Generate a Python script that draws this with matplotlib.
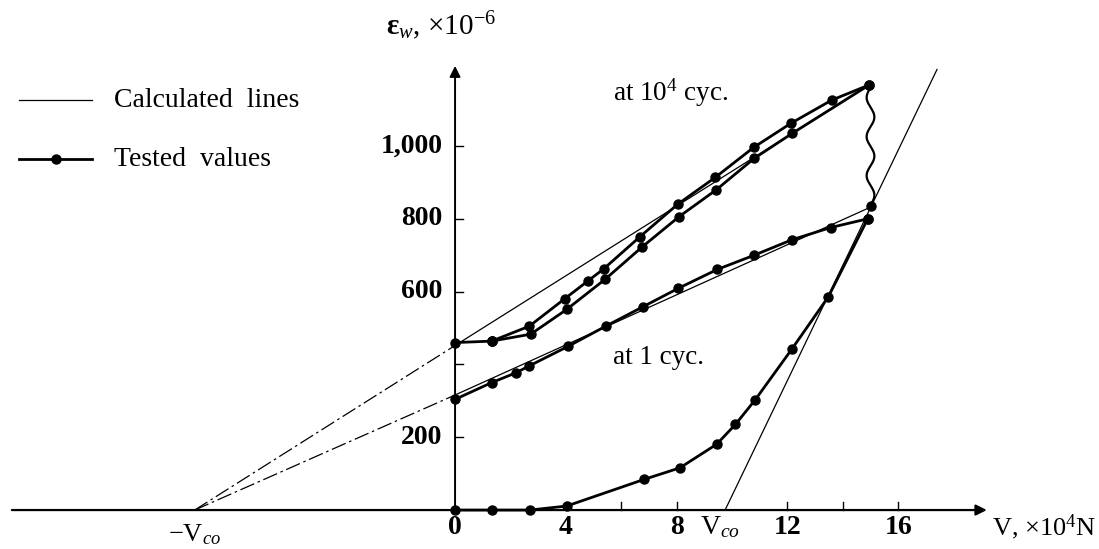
import numpy as np
import matplotlib
matplotlib.use("Agg")
import matplotlib.pyplot as plt

# ---------------- data (V in 10^4 N, strain in 10^-6) ----------------
# tested, at 10^4 cycles: common start, then upper and lower branches
cyc4_start_v = [0.0, 1.32]
cyc4_start_e = [460, 464]
cyc4_upper_v = [1.32, 2.68, 3.97, 4.81, 5.36, 6.68, 8.04, 9.40, 10.78, 12.12, 13.60, 14.96]
cyc4_upper_e = [464, 505, 581, 630, 662, 751, 840, 914, 996, 1062, 1126, 1168]
cyc4_lower_v = [1.32, 2.73, 4.03, 5.42, 6.76, 8.09, 9.42, 10.80, 12.18, 14.96]
cyc4_lower_e = [464, 483, 551, 634, 723, 806, 879, 966, 1035, 1168]

# tested, at 1 cycle
cyc1_v = [0.0, 1.32, 2.20, 2.68, 4.09, 5.44, 6.80, 8.06, 9.47, 10.80, 12.15, 13.56, 14.90]
cyc1_e = [304, 350, 377, 396, 450, 505, 559, 609, 661, 700, 742, 776, 800]

# tested, lower (cracking) curve
crack_v = [0.0, 1.32, 2.70, 4.03, 6.82, 8.12, 9.45, 10.12, 10.83, 12.15, 13.48, 14.90]
crack_e = [0, 0, 0, 11, 84, 116, 181, 235, 302, 441, 586, 800]

# calculated lines
v_co_neg = -9.4          # -Vco on the V axis
v_co_pos = 9.75          # Vco (steep line root)
calc4_v = [v_co_neg, 0.0, 14.96]
calc4_e = [0, 452, 1168]
calc1_v = [v_co_neg, 0.0, 15.0]
calc1_e = [0, 316, 832]
steep_v = [v_co_pos, 17.4]
steep_e = [0, 1210]
wave_top, wave_bot, wave_v = 1160, 838, 15.0
wave_pt_e = 836

x_ticks = [4, 6, 8, 12, 14, 16]
x_labels = {0: "0", 4: "4", 8: "8", 12: "12", 16: "16"}
y_ticks = [200, 400, 600, 800, 1000]
y_labels = {200: "200", 600: "600", 800: "800", 1000: "1,000"}

# ---------------- figure ----------------
plt.rcParams['font.family'] = ['Liberation Serif', 'DejaVu Serif']
plt.rcParams['mathtext.fontset'] = 'custom'
plt.rcParams['mathtext.rm'] = 'Liberation Serif'
plt.rcParams['mathtext.it'] = 'Liberation Serif:italic'
plt.rcParams['mathtext.bf'] = 'Liberation Serif:bold'
fig = plt.figure(figsize=(10.99, 5.49), dpi=100)
ax = fig.add_axes([0, 0, 1, 1])
ax.set_xlim(-16.43, 23.25)
ax.set_ylim(-107, 1401)
ax.axis('off')

K = 'black'
thick = dict(color=K, lw=2.0, marker='o', ms=6.5, solid_capstyle='round')
thin = dict(color=K, lw=0.9)

# axes with arrows
ax.annotate('', xy=(19.2, 0), xytext=(-16.0, 0),
            arrowprops=dict(arrowstyle='-|>', color=K, lw=1.6,
                            mutation_scale=16, shrinkA=0, shrinkB=0))
ax.annotate('', xy=(0, 1220), xytext=(0, 0),
            arrowprops=dict(arrowstyle='-|>', color=K, lw=1.4,
                            mutation_scale=16, shrinkA=0, shrinkB=0))
for t in x_ticks:
    ax.plot([t, t], [0, 22], color=K, lw=1.0)
for t in y_ticks:
    ax.plot([0, 0.3], [t, t], color=K, lw=1.0)

tick_fs = 20
for t, s in x_labels.items():
    ax.text(t, -48, s, ha='center', va='center', fontsize=tick_fs, fontweight='bold')
for t, s in y_labels.items():
    ax.text(-0.45, t, s, ha='right', va='center', fontsize=tick_fs, fontweight='bold')
ax.text(v_co_pos - 0.2, -48, r'V$_{co}$', ha='center', va='center', fontsize=tick_fs)
ax.text(v_co_neg, -68, r'$-$V$_{co}$', ha='center', va='center', fontsize=19)
ax.text(23.15, -48, r'V, $\times$10$^{4}$N', ha='right', va='center', fontsize=19)
ax.text(-2.5, 1330, r'$\mathbf{\varepsilon}_{w}$, $\times$10$^{-6}$',
        ha='left', va='center', fontsize=21)
ax.text(5.7, 1145, r'at 10$^{4}$ cyc.', ha='left', va='center', fontsize=19.5)
ax.text(5.7, 418, 'at 1 cyc.', ha='left', va='center', fontsize=19.5)

# calculated lines: dash-dot for V<0, solid for V>=0
dd = dict(color=K, lw=0.9, dashes=(12, 3, 2, 3))
ax.plot(calc4_v[:2], calc4_e[:2], **dd)
ax.plot(calc4_v[1:], calc4_e[1:], **thin)
ax.plot(calc1_v[:2], calc1_e[:2], **dd)
ax.plot(calc1_v[1:], calc1_e[1:], **thin)
ax.plot(steep_v, steep_e, **thin)

# tested values
ax.plot(cyc4_start_v, cyc4_start_e, **thick)
ax.plot(cyc4_upper_v, cyc4_upper_e, **thick)
ax.plot(cyc4_lower_v, cyc4_lower_e, **thick)
ax.plot(cyc1_v, cyc1_e, **thick)
ax.plot(crack_v, crack_e, **thick)
ax.plot([wave_v], [wave_pt_e], 'o', color=K, ms=6.5)

# wavy connector
s = np.linspace(0, 1, 300)
ax.plot(wave_v + 0.14 * np.sin(2 * np.pi * 3 * s), wave_bot + (wave_top - wave_bot) * s,
        color=K, lw=1.6)

# legend (drawn by hand)
ax.plot([-15.75, -13.1], [1125, 1125], **thin)
ax.plot([-15.75, -13.1], [963, 963], color=K, lw=2.0)
ax.plot([-14.4], [963], 'o', color=K, ms=6.5)
ax.text(-12.3, 1125, 'Calculated  lines', ha='left', va='center', fontsize=20)
ax.text(-12.3, 963, 'Tested  values', ha='left', va='center', fontsize=20)

fig.savefig('out.png', dpi=100)
